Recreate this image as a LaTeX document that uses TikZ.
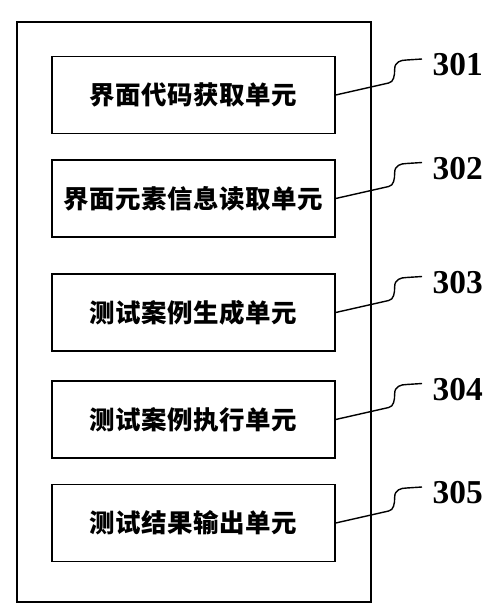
\documentclass[tikz,border=0pt]{standalone}
\usepackage{fontspec}
\setmainfont{Liberation Serif}
\newfontfamily\cjkfont[LetterSpace=2]{Noto Sans CJK SC}
\usetikzlibrary{positioning}

\begin{document}
\begin{tikzpicture}[x=0.02cm, y=-0.02cm, line width=0.8pt,
    unitbox/.style={draw, rectangle, minimum width=5.66cm, minimum height=1.54cm, font=\cjkfont\bfseries\fontsize{14.5pt}{16pt}\selectfont},
    refnum/.style={anchor=west, inner sep=0pt, font=\bfseries\fontsize{19pt}{21pt}\selectfont}]
    \useasboundingbox (0,0) rectangle (500,615);

    \node[draw, rectangle, minimum width=7.08cm, minimum height=11.6cm] (frame) at (194,312) {};

    \node[unitbox] (getcode) at (193.5,95) {界面代码获取单元};
    \node[unitbox] (readinfo) at (193.5,198.5) {界面元素信息读取单元};
    \node[unitbox] (gencase) at (193.5,312.5) {测试案例生成单元};
    \node[unitbox] (runcase) at (193.5,419.5) {测试案例执行单元};
    \node[unitbox] (output) at (193.5,523) {测试结果输出单元};

    \node[refnum] (n301) at (432,65) {301};
    \node[refnum] (n302) at (432,168.5) {302};
    \node[refnum] (n303) at (432,282.5) {303};
    \node[refnum] (n304) at (432,389.5) {304};
    \node[refnum] (n305) at (432,493) {305};

    \coordinate (t301) at (422,59);
    \coordinate (t302) at (422,162.5);
    \coordinate (t303) at (422,276.5);
    \coordinate (t304) at (422,383.5);
    \coordinate (t305) at (422,487);

    % leader lines
    \draw (getcode.east) -- ++(53,-12) .. controls +(5,-1) and +(0,7) .. ++(6,-14) .. controls +(0,-7) and +(-6,0) .. ++(12,-9) -- (t301);
    \draw (readinfo.east) -- ++(53,-12) .. controls +(5,-1) and +(0,7) .. ++(6,-14) .. controls +(0,-7) and +(-6,0) .. ++(12,-9) -- (t302);
    \draw (gencase.east) -- ++(53,-12) .. controls +(5,-1) and +(0,7) .. ++(6,-14) .. controls +(0,-7) and +(-6,0) .. ++(12,-9) -- (t303);
    \draw (runcase.east) -- ++(53,-12) .. controls +(5,-1) and +(0,7) .. ++(6,-14) .. controls +(0,-7) and +(-6,0) .. ++(12,-9) -- (t304);
    \draw (output.east) -- ++(53,-12) .. controls +(5,-1) and +(0,7) .. ++(6,-14) .. controls +(0,-7) and +(-6,0) .. ++(12,-9) -- (t305);
\end{tikzpicture}
\end{document}
